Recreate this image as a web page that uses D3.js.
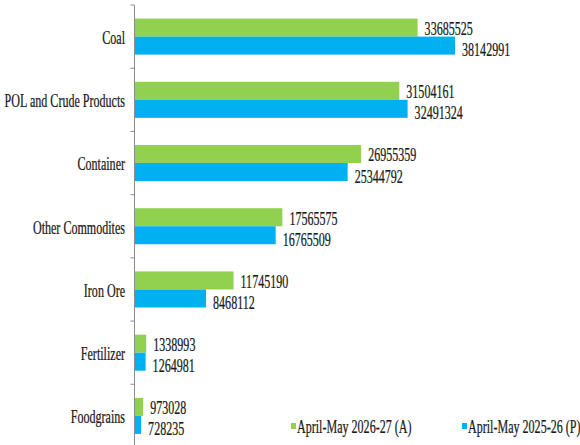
<!DOCTYPE html>
<html>
<head>
<meta charset="utf-8">
<script src="https://cdn.jsdelivr.net/npm/d3@7"></script>
<style>
  body { margin: 0; background: #fff; }
</style>
</head>
<body>
<svg></svg>
<script>
var categories = ['Coal', 'POL and Crude Products', 'Container', 'Other Commodites', 'Iron Ore', 'Fertilizer', 'Foodgrains'];
var seriesNames = ['April-May 2026-27 (A)', 'April-May 2025-26 (P)'];
var values2026 = [33685525, 31504161, 26955359, 17565575, 11745190, 1338993, 973028];
var values2025 = [38142991, 32491324, 25344792, 16765509, 8468112, 1264981, 728235];
var colors = ['#92d050', '#00b0f0'];

var width = 580;
var height = 445;
var squeeze = 0.67; // text in the picture is narrow
var fontSize = 18;

var svg = d3.select('svg')
    .attr('width', width)
    .attr('height', height)
    .attr('font-family', "'Liberation Serif', 'Times New Roman', serif")
    .attr('fill', '#1a1a1a');

var data = categories.map((c, i) => ({ cat: c, vals: [values2026[i], values2025[i]] }));

var yScale = d3.scaleBand()
    .domain(categories)
    .range([5, 447.5])
    .paddingInner(0.43)
    .paddingOuter(0.215);

var ySub = d3.scaleBand()
    .domain([0, 1])
    .range([0, yScale.bandwidth()]);

var xScale = d3.scaleLinear()
    .domain([0, 40000000])
    .range([135, 470.6]);

// axis line + ticks at category boundaries
var axisX = 134.5;
svg.append('line')
    .attr('x1', axisX).attr('x2', axisX)
    .attr('y1', yScale.range()[0]).attr('y2', yScale.range()[1])
    .attr('stroke', '#8c8c8c');

var step = yScale.step();
var bounds = d3.range(categories.length + 1).map(i => yScale.range()[0] + i * step);
svg.selectAll('.tick')
    .data(bounds)
    .enter()
    .append('line')
      .attr('x1', axisX - 4).attr('x2', axisX)
      .attr('y1', d => d).attr('y2', d => d)
      .attr('stroke', '#8c8c8c');

// text helper: narrow + a touch heavier like the picture
function styleText(sel) {
  sel.attr('font-size', fontSize)
     .attr('dominant-baseline', 'central')
     .attr('stroke', '#1a1a1a')
     .attr('stroke-width', 0.25);
}

// category labels
svg.selectAll('.cat')
    .data(categories)
    .enter()
    .append('text')
      .attr('transform', d => `translate(125, ${yScale(d) + yScale.bandwidth() / 2 + 1}) scale(${squeeze}, 1)`)
      .attr('text-anchor', 'end')
      .call(styleText)
      .text(d => d);

var groups = svg.selectAll('.grp')
    .data(data)
    .enter()
    .append('g')
      .attr('transform', d => `translate(0, ${yScale(d.cat)})`);

groups.selectAll('rect')
    .data(d => d.vals)
    .enter()
    .append('rect')
      .attr('x', xScale(0))
      .attr('y', (d, i) => ySub(i))
      .attr('width', d => xScale(d) - xScale(0))
      .attr('height', ySub.bandwidth())
      .attr('fill', (d, i) => colors[i]);

groups.selectAll('.val')
    .data(d => d.vals)
    .enter()
    .append('text')
      .attr('transform', (d, i) => `translate(${xScale(d) + 7}, ${ySub(i) + ySub.bandwidth() / 2 + (i ? 4 : 1)}) scale(${squeeze}, 1)`)
      .call(styleText)
      .text(d => d);

// legend
var legendX = [291, 462];
var legend = svg.selectAll('.legend')
    .data(seriesNames)
    .enter()
    .append('g')
      .attr('transform', (d, i) => `translate(${legendX[i]}, 426)`);

legend.append('rect')
    .attr('x', 0).attr('y', -3)
    .attr('width', 5).attr('height', 6)
    .attr('fill', (d, i) => colors[i]);

legend.append('text')
    .attr('transform', `translate(6, 1) scale(${squeeze}, 1)`)
    .call(styleText)
    .text(d => d);
</script>
</body>
</html>
